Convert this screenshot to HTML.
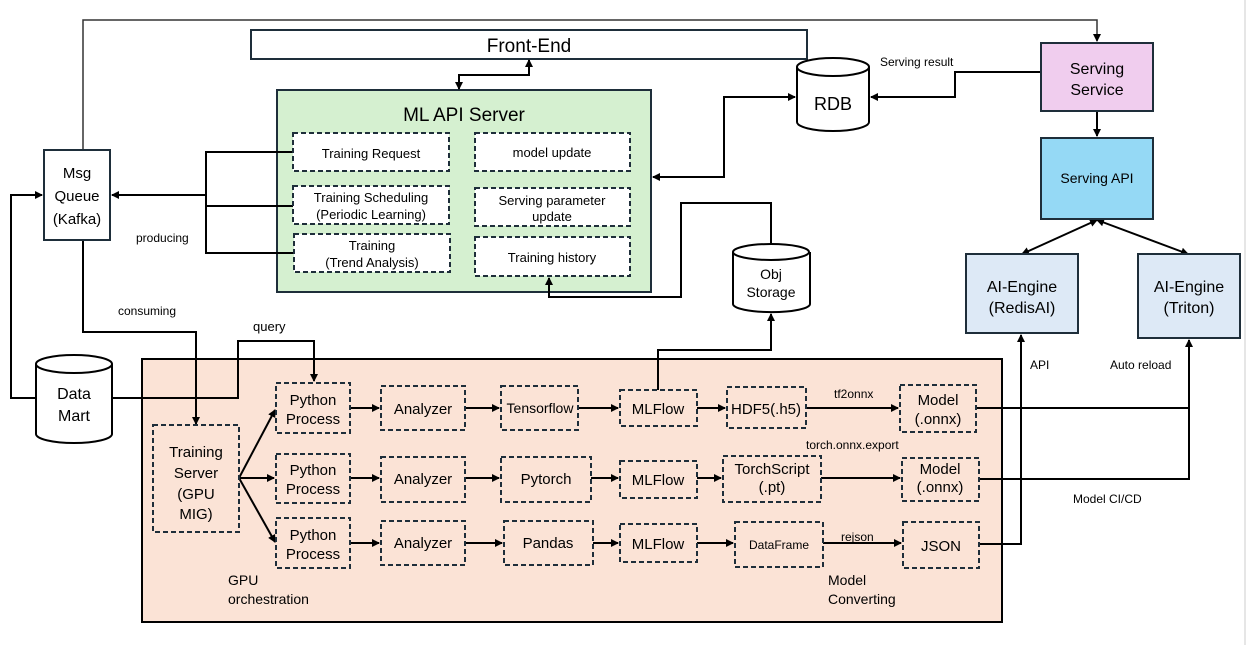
<!DOCTYPE html>
<html><head><meta charset="utf-8"><style>
html,body{margin:0;padding:0;background:#fff;}
svg{display:block;font-family:"Liberation Sans","Noto Sans CJK KR",sans-serif;}
</style></head><body>
<svg width="1247" height="645" viewBox="0 0 1247 645" xmlns="http://www.w3.org/2000/svg">
<defs>
<marker id="a" markerWidth="8" markerHeight="8" refX="7" refY="4" orient="auto-start-reverse" markerUnits="userSpaceOnUse"><path d="M0,0 L8,4 L0,8 z" fill="#000"/></marker>
</defs>
<rect x="0" y="0" width="1247" height="645" fill="#fff"/>
<line x1="1245" y1="0" x2="1245" y2="645" stroke="#ccc" stroke-width="1"/>
<!-- orange box -->
<rect x="142" y="359" width="860" height="263" fill="#fbe3d6" stroke="#000" stroke-width="2"/>
<!-- green box -->
<rect x="277" y="90" width="374" height="202" fill="#d5f0d0" stroke="#1e2e3a" stroke-width="2"/>
<text x="464" y="121" font-size="19" text-anchor="middle">ML API Server</text>
<!-- front end -->
<rect x="251" y="30" width="556" height="29" fill="#fff" stroke="#1e2e3a" stroke-width="2"/>
<text x="529" y="52" font-size="19" text-anchor="middle">Front-End</text>
<g fill="none" stroke="#000" stroke-width="2">
<polyline points="83,151 83,20 1097,20 1097,41" stroke="#333" stroke-width="1.5" marker-end="url(#a)"/>
<polyline points="459,89 459,75 529,75 529,60" marker-start="url(#a)" marker-end="url(#a)"/>
<polyline points="293,152 206,152 206,253 293,253"/>
<line x1="206" y1="206" x2="293" y2="206"/>
<line x1="206" y1="195" x2="112" y2="195" marker-end="url(#a)"/>
<polyline points="36,398 11,398 11,195 42,195" marker-end="url(#a)"/>
<polyline points="83,240 83,332 196,332 196,424" marker-end="url(#a)"/>
<polyline points="113,398 238,398 238,341 314,341 314,381" marker-end="url(#a)"/>
<polyline points="653,177 724,177 724,97 795,97" marker-start="url(#a)" marker-end="url(#a)"/>
<polyline points="1041,72 955,72 955,97 871,97" marker-end="url(#a)"/>
<line x1="1097" y1="111" x2="1097" y2="136" marker-end="url(#a)"/>
<line x1="1097" y1="220" x2="1022" y2="254" marker-start="url(#a)" marker-end="url(#a)"/>
<line x1="1097" y1="220" x2="1188" y2="254" marker-start="url(#a)" marker-end="url(#a)"/>
<polyline points="771,245 771,203 681,203 681,297 549,297 549,278" marker-end="url(#a)"/>
<polyline points="658,390 658,350 771,350 771,314" marker-end="url(#a)"/>
<polyline points="977,408 1189,408 1189,340" marker-end="url(#a)"/>
<polyline points="980,479 1189,479 1189,408"/>
<polyline points="980,544 1021,544 1021,335" marker-end="url(#a)"/>
<line x1="239" y1="478" x2="275" y2="410" marker-end="url(#a)"/>
<line x1="239" y1="478" x2="274" y2="478" marker-end="url(#a)"/>
<line x1="239" y1="478" x2="275" y2="542" marker-end="url(#a)"/>
<line x1="350" y1="408" x2="379" y2="408" marker-end="url(#a)"/>
<line x1="465" y1="408" x2="499" y2="408" marker-end="url(#a)"/>
<line x1="578" y1="408" x2="618" y2="408" marker-end="url(#a)"/>
<line x1="697" y1="408" x2="725" y2="408" marker-end="url(#a)"/>
<line x1="806" y1="408" x2="898" y2="408" marker-end="url(#a)"/>
<line x1="350" y1="478" x2="379" y2="478" marker-end="url(#a)"/>
<line x1="465" y1="478" x2="499" y2="478" marker-end="url(#a)"/>
<line x1="591" y1="478" x2="618" y2="478" marker-end="url(#a)"/>
<line x1="697" y1="478" x2="721" y2="478" marker-end="url(#a)"/>
<line x1="821" y1="478" x2="900" y2="478" marker-end="url(#a)"/>
<line x1="350" y1="543" x2="379" y2="543" marker-end="url(#a)"/>
<line x1="465" y1="543" x2="502" y2="543" marker-end="url(#a)"/>
<line x1="593" y1="543" x2="618" y2="543" marker-end="url(#a)"/>
<line x1="697" y1="543" x2="733" y2="543" marker-end="url(#a)"/>
<line x1="823" y1="543" x2="901" y2="543" marker-end="url(#a)"/>
</g>
<rect x="44" y="150" width="66" height="90" fill="#fff" stroke="#1e2e3a" stroke-width="2"/>
<text font-size="15" text-anchor="middle"><tspan x="77" y="178">Msg</tspan><tspan x="77" y="201">Queue</tspan><tspan x="77" y="224">(Kafka)</tspan></text>
<g fill="#fff" stroke="#1e2e3a" stroke-width="2" stroke-dasharray="5,3">
<rect x="293" y="133" width="156" height="38"/>
<rect x="475" y="133" width="155" height="38"/>
<rect x="293" y="186" width="156" height="38"/>
<rect x="475" y="188" width="155" height="38"/>
<rect x="294" y="234" width="156" height="38"/>
<rect x="475" y="237" width="155" height="39"/>
</g>
<g font-size="13" text-anchor="middle">
<text x="371" y="158">Training Request</text>
<text x="552" y="157">model update</text>
<text x="371" y="202">Training Scheduling</text><text x="371" y="219">(Periodic Learning)</text>
<text x="552" y="205">Serving parameter</text><text x="552" y="221">update</text>
<text x="372" y="250">Training</text><text x="372" y="267">(Trend Analysis)</text>
<text x="552" y="262">Training history</text>
</g>
<g fill="#fbe3d6" stroke="#1e2e3a" stroke-width="2" stroke-dasharray="5,3">
<rect x="153" y="425" width="86" height="107"/>
<rect x="276" y="383" width="74" height="50"/><rect x="381" y="386" width="84" height="44"/><rect x="501" y="386" width="77" height="44"/><rect x="620" y="390" width="77" height="36"/><rect x="727" y="387" width="79" height="41"/><rect x="900" y="385" width="76" height="47"/>
<rect x="276" y="454" width="74" height="49"/><rect x="381" y="457" width="84" height="45"/><rect x="501" y="457" width="90" height="45"/><rect x="620" y="461" width="77" height="37"/><rect x="723" y="456" width="98" height="46"/><rect x="902" y="458" width="77" height="43"/>
<rect x="276" y="518" width="74" height="50"/><rect x="381" y="521" width="84" height="44"/><rect x="504" y="521" width="89" height="44"/><rect x="620" y="524" width="77" height="38"/><rect x="735" y="522" width="88" height="45"/><rect x="903" y="522" width="76" height="46"/>
</g>
<g font-size="15" text-anchor="middle">
<text x="196" y="457">Training</text><text x="196" y="478">Server</text><text x="196" y="499">(GPU</text><text x="196" y="519">MIG)</text>
<text x="313" y="405">Python</text><text x="313" y="424">Process</text>
<text x="313" y="475">Python</text><text x="313" y="494">Process</text>
<text x="313" y="540">Python</text><text x="313" y="559">Process</text>
<text x="423" y="414">Analyzer</text><text x="423" y="484">Analyzer</text><text x="423" y="548">Analyzer</text>
<text x="540" y="413" font-size="14">Tensorflow</text><text x="546" y="484">Pytorch</text><text x="548" y="548">Pandas</text>
<text x="658" y="414">MLFlow</text><text x="658" y="485">MLFlow</text><text x="658" y="549">MLFlow</text>
<text x="766" y="414">HDF5(.h5)</text>
<text x="772" y="474">TorchScript</text><text x="772" y="492">(.pt)</text>
<text x="779" y="549" font-size="12">DataFrame</text>
<text x="938" y="405">Model</text><text x="938" y="424">(.onnx)</text>
<text x="940" y="474">Model</text><text x="940" y="492">(.onnx)</text>
<text x="941" y="551">JSON</text>
</g>
<g fill="#fff" stroke="#000" stroke-width="2">
<path d="M36,364 L36,434 A38,9 0 0 0 112,434 L112,364"/><ellipse cx="74" cy="364" rx="38" ry="9"/>
<path d="M797,67 L797,122 A36,9 0 0 0 869,122 L869,67"/><ellipse cx="833" cy="67" rx="36" ry="9"/>
<path d="M733,252 L733,304 A38,8 0 0 0 810,304 L810,252"/><ellipse cx="771" cy="252" rx="38" ry="8"/>
</g>
<g text-anchor="middle">
<text x="74" y="399" font-size="16">Data</text><text x="74" y="421" font-size="16">Mart</text>
<text x="833" y="110" font-size="18">RDB</text>
<text x="771" y="279" font-size="14">Obj</text><text x="771" y="297" font-size="14">Storage</text>
</g>
<rect x="1041" y="43" width="112" height="68" fill="#f0cdee" stroke="#1e2e3a" stroke-width="2"/>
<text x="1097" y="74" font-size="16" text-anchor="middle">Serving</text><text x="1097" y="95" font-size="16" text-anchor="middle">Service</text>
<rect x="1041" y="138" width="112" height="81" fill="#95d9f5" stroke="#1e2e3a" stroke-width="2"/>
<text x="1097" y="183" font-size="14" text-anchor="middle">Serving API</text>
<rect x="966" y="254" width="112" height="79" fill="#dde9f6" stroke="#1e2e3a" stroke-width="2"/>
<text x="1022" y="292" font-size="16" text-anchor="middle">AI-Engine</text><text x="1022" y="313" font-size="16" text-anchor="middle">(RedisAI)</text>
<rect x="1138" y="254" width="102" height="84" fill="#dde9f6" stroke="#1e2e3a" stroke-width="2"/>
<text x="1189" y="292" font-size="16" text-anchor="middle">AI-Engine</text><text x="1189" y="313" font-size="16" text-anchor="middle">(Triton)</text>
<g font-size="12">
<text x="880" y="66">Serving result</text>
<text x="136" y="242">producing</text>
<text x="118" y="315">consuming</text>
<text x="253" y="331" font-size="13">query</text>
<text x="834" y="398">tf2onnx</text>
<text x="806" y="449">torch.onnx.export</text>
<text x="841" y="541">rejson</text>
<text x="1030" y="369">API</text>
<text x="1110" y="369">Auto reload</text>
<text x="1073" y="503">Model CI/CD</text>
</g>
<g font-size="14">
<text x="228" y="585">GPU</text><text x="228" y="604">orchestration</text>
<text x="828" y="585">Model</text><text x="828" y="604">Converting</text>
</g>
</svg>
</body></html>
